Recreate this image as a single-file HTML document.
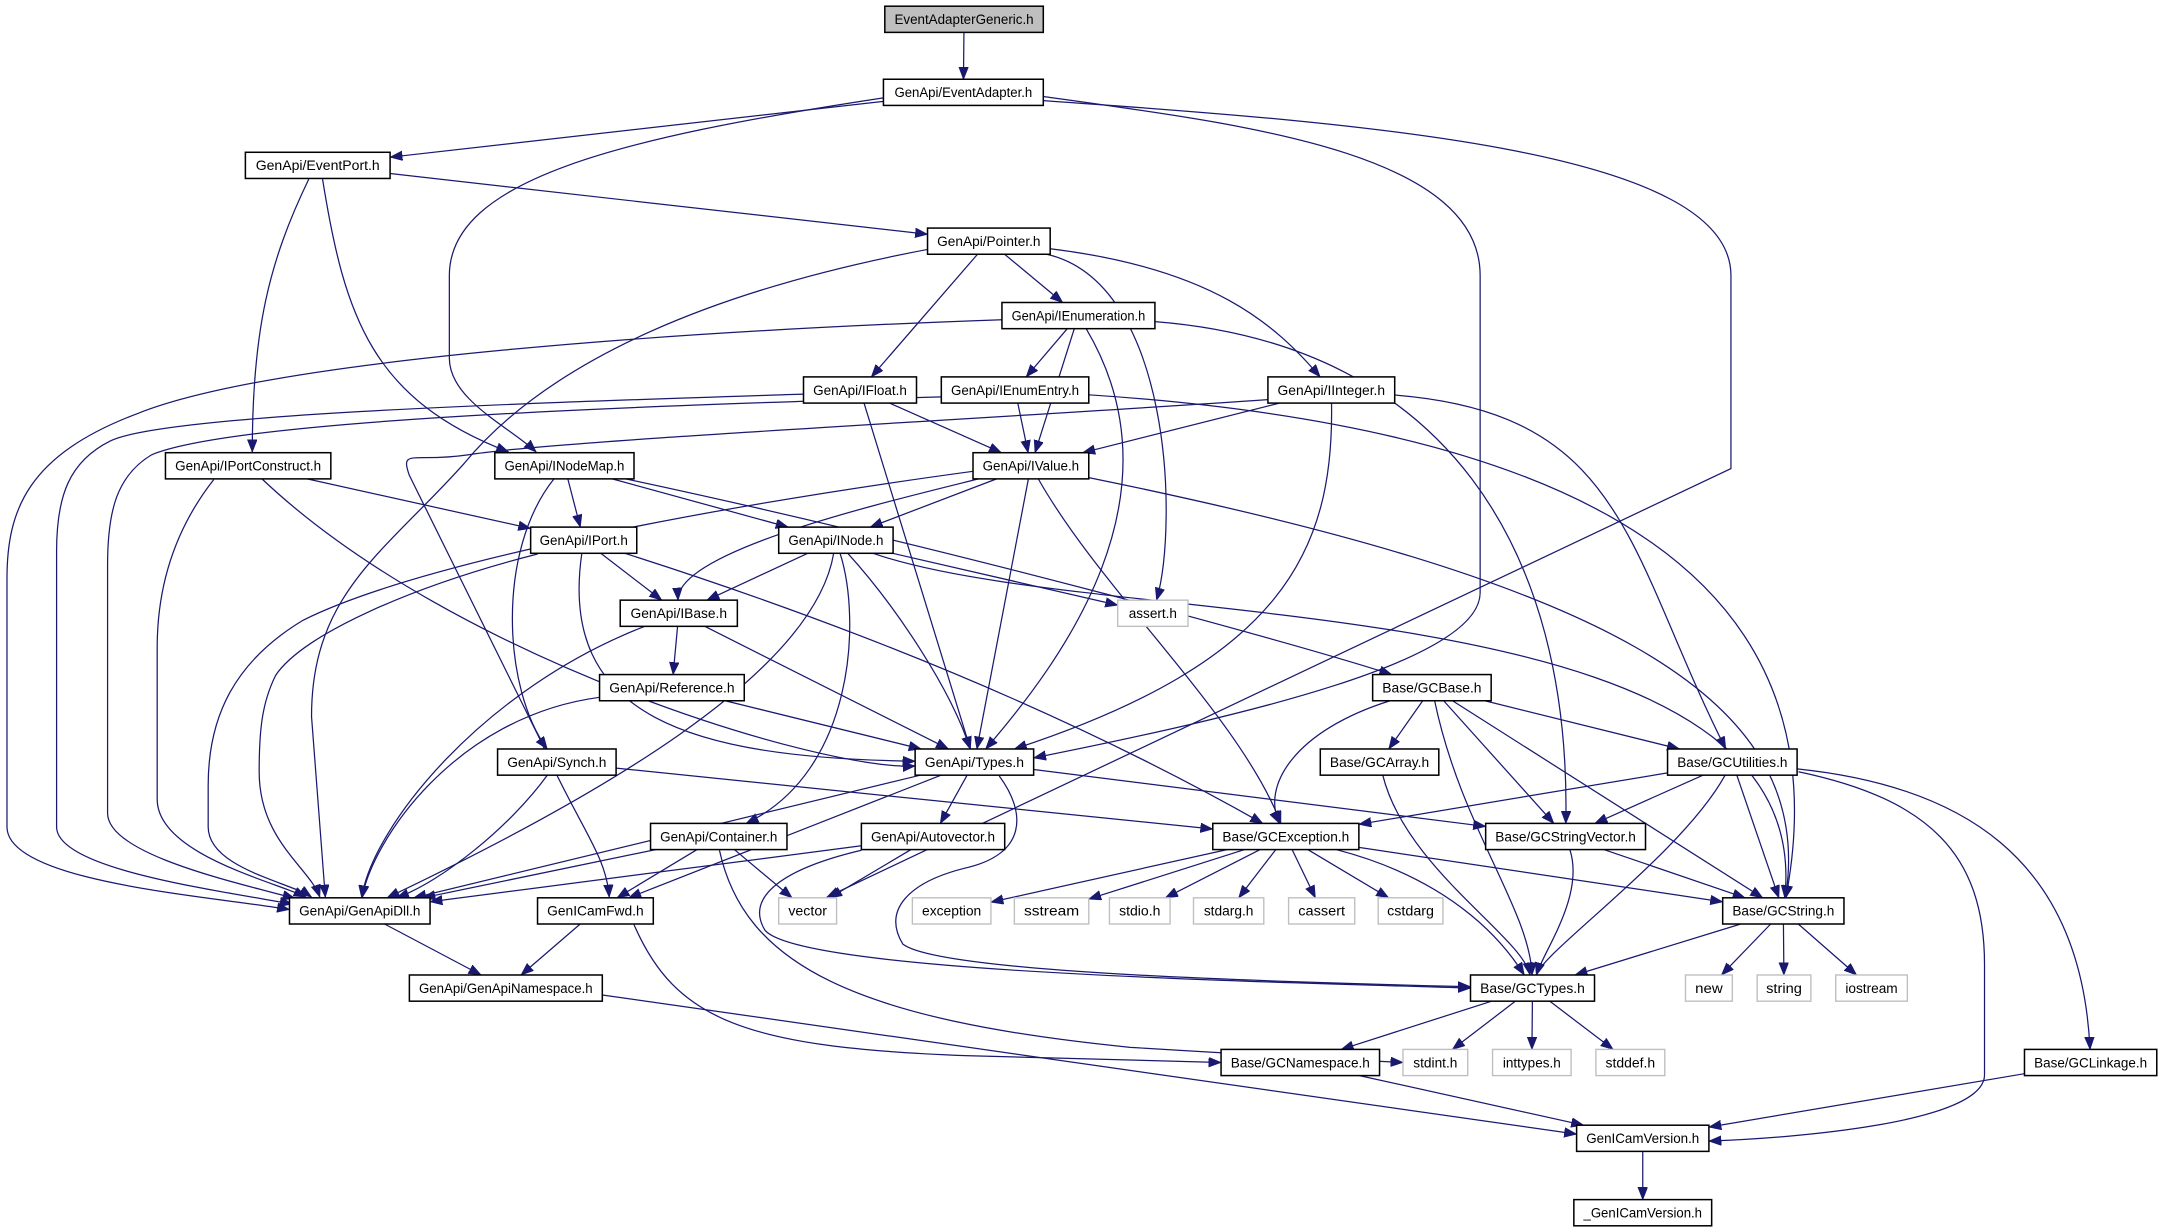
<!DOCTYPE html>
<html><head><meta charset="utf-8"><style>
html,body{margin:0;padding:0;background:#fff;}
svg{display:block;}
text{font-family:"Liberation Sans",sans-serif;font-size:10px;fill:#000;}
.n rect{fill:#fff;stroke:#000;stroke-width:1.1;}
.g rect{fill:#fff;stroke:#bfbfbf;stroke-width:1;}
.e{fill:none;stroke:#191970;stroke-width:0.9;marker-end:url(#ah);}
</style></head><body>
<svg id="s" width="2161" height="1232" viewBox="0 0 1568 894" xmlns="http://www.w3.org/2000/svg">
<defs><marker id="ah" markerUnits="userSpaceOnUse" markerWidth="10" markerHeight="8" refX="9" refY="3.5" orient="auto"><path d="M0,0 L9,3.5 L0,7 z" fill="#191970" stroke="#191970" stroke-width="0.5"/></marker></defs>
<g id="edges">
<path class="e" d="M641,71 C450,100 326,130 326,200 L326,260 C326,290 370,310 389,328"/>
<path class="e" d="M234,130 C250,230 270,290 369,328"/>
<path class="e" d="M224,130 C195,190 183,240 183,328"/>
<path class="e" d="M757,70 C900,90 1074,110 1074,200 L1074,430 C1074,480 900,520 750,550"/>
<path class="e" d="M757,73 C1000,90 1256,110 1256,200 L1256,340 L600,651"/>
<path class="e" d="M727,232 C500,240 200,260 100,300 C20,330 5,370 5,420 L5,600 C5,640 150,650 210,660"/>
<path class="e" d="M583,286 C400,292 120,300 80,320 C50,335 41,360 41,400 L41,600 C41,630 150,645 212,656"/>
<path class="e" d="M683,288 C450,295 170,305 110,330 C85,345 78,370 78,410 L78,590 C78,620 170,640 214,652"/>
<path class="e" d="M155,348 C130,380 114,420 114,470 L114,580 C114,620 200,640 222,651"/>
<path class="e" d="M706,342 C500,370 300,410 220,450 C170,480 151,520 151,570 L151,600 C151,630 210,640 226,651"/>
<path class="e" d="M390,402 C300,425 220,460 200,490 C190,510 188,530 188,560 C188,610 225,630 232,651"/>
<path class="e" d="M673,181 C520,210 400,260 337,336 C280,400 226,430 226,520 L236,651"/>
<path class="e" d="M920,290 C700,305 400,320 340,330 C300,336 290,325 297,345 L392,537 C420,600 440,620 442,651"/>
<path class="e" d="M1305,560 C1400,580 1440,620 1440,700 L1440,780 C1440,815 1300,826 1240,828"/>
<path class="e" d="M725,563 C745,590 745,620 700,630 C660,640 640,660 655,685 C680,705 900,712 1067,716"/>
<path class="e" d="M522,617 C540,700 620,740 820,760 C950,768 1000,770 1018,771"/>
<path class="e" d="M625,617 C570,630 540,650 555,675 C580,705 900,712 1067,717"/>
<path class="e" d="M460,671 C490,740 540,760 700,766 L886,771"/>
<path class="e" d="M437,722 L1144,823"/>
</g>
<g id="nodes">
<g class="n"><rect x="642" y="4.5" width="115" height="19" style="fill:#bfbfbf"/><text x="699.5" y="17.5" text-anchor="middle" textLength="101" lengthAdjust="spacingAndGlyphs">EventAdapterGeneric.h</text></g>
<g class="n"><rect x="641" y="57.5" width="116" height="19"/><text x="699" y="70.5" text-anchor="middle" textLength="100" lengthAdjust="spacingAndGlyphs">GenApi/EventAdapter.h</text></g>
<g class="n"><rect x="178" y="110.5" width="105" height="19"/><text x="230.5" y="123.5" text-anchor="middle" textLength="90" lengthAdjust="spacingAndGlyphs">GenApi/EventPort.h</text></g>
<g class="n"><rect x="673" y="165.5" width="89" height="19"/><text x="717.5" y="178.5" text-anchor="middle" textLength="75" lengthAdjust="spacingAndGlyphs">GenApi/Pointer.h</text></g>
<g class="n"><rect x="727" y="219.5" width="111" height="19"/><text x="782.5" y="232.5" text-anchor="middle" textLength="97" lengthAdjust="spacingAndGlyphs">GenApi/IEnumeration.h</text></g>
<g class="n"><rect x="583" y="273.5" width="82" height="19"/><text x="624" y="286.5" text-anchor="middle" textLength="68" lengthAdjust="spacingAndGlyphs">GenApi/IFloat.h</text></g>
<g class="n"><rect x="683" y="273.5" width="107" height="19"/><text x="736.5" y="286.5" text-anchor="middle" textLength="93" lengthAdjust="spacingAndGlyphs">GenApi/IEnumEntry.h</text></g>
<g class="n"><rect x="920" y="273.5" width="92" height="19"/><text x="966" y="286.5" text-anchor="middle" textLength="78" lengthAdjust="spacingAndGlyphs">GenApi/IInteger.h</text></g>
<g class="n"><rect x="120" y="328.5" width="120" height="19"/><text x="180" y="341.5" text-anchor="middle" textLength="106" lengthAdjust="spacingAndGlyphs">GenApi/IPortConstruct.h</text></g>
<g class="n"><rect x="359" y="328.5" width="101" height="19"/><text x="409.5" y="341.5" text-anchor="middle" textLength="87" lengthAdjust="spacingAndGlyphs">GenApi/INodeMap.h</text></g>
<g class="n"><rect x="706" y="328.5" width="84" height="19"/><text x="748" y="341.5" text-anchor="middle" textLength="70" lengthAdjust="spacingAndGlyphs">GenApi/IValue.h</text></g>
<g class="n"><rect x="385" y="382.5" width="77" height="19"/><text x="423.5" y="395.5" text-anchor="middle" textLength="64" lengthAdjust="spacingAndGlyphs">GenApi/IPort.h</text></g>
<g class="n"><rect x="565" y="382.5" width="83" height="19"/><text x="606.5" y="395.5" text-anchor="middle" textLength="69" lengthAdjust="spacingAndGlyphs">GenApi/INode.h</text></g>
<g class="n"><rect x="450" y="435.5" width="85" height="19"/><text x="492.5" y="448.5" text-anchor="middle" textLength="70" lengthAdjust="spacingAndGlyphs">GenApi/IBase.h</text></g>
<g class="g"><rect x="811" y="435.5" width="51" height="19"/><text x="836.5" y="448.5" text-anchor="middle" textLength="35" lengthAdjust="spacingAndGlyphs">assert.h</text></g>
<g class="n"><rect x="435" y="489.5" width="105" height="19"/><text x="487.5" y="502.5" text-anchor="middle" textLength="91" lengthAdjust="spacingAndGlyphs">GenApi/Reference.h</text></g>
<g class="n"><rect x="996" y="489.5" width="86" height="19"/><text x="1039" y="502.5" text-anchor="middle" textLength="72" lengthAdjust="spacingAndGlyphs">Base/GCBase.h</text></g>
<g class="n"><rect x="958" y="543.5" width="86" height="19"/><text x="1001" y="556.5" text-anchor="middle" textLength="72" lengthAdjust="spacingAndGlyphs">Base/GCArray.h</text></g>
<g class="n"><rect x="1210" y="543.5" width="94" height="19"/><text x="1257" y="556.5" text-anchor="middle" textLength="80" lengthAdjust="spacingAndGlyphs">Base/GCUtilities.h</text></g>
<g class="n"><rect x="361" y="543.5" width="86" height="19"/><text x="404" y="556.5" text-anchor="middle" textLength="72" lengthAdjust="spacingAndGlyphs">GenApi/Synch.h</text></g>
<g class="n"><rect x="664" y="543.5" width="86" height="19"/><text x="707" y="556.5" text-anchor="middle" textLength="72" lengthAdjust="spacingAndGlyphs">GenApi/Types.h</text></g>
<g class="n"><rect x="472" y="597.5" width="99" height="19"/><text x="521.5" y="610.5" text-anchor="middle" textLength="85" lengthAdjust="spacingAndGlyphs">GenApi/Container.h</text></g>
<g class="n"><rect x="625" y="597.5" width="104" height="19"/><text x="677" y="610.5" text-anchor="middle" textLength="90" lengthAdjust="spacingAndGlyphs">GenApi/Autovector.h</text></g>
<g class="n"><rect x="880" y="597.5" width="106" height="19"/><text x="933" y="610.5" text-anchor="middle" textLength="92" lengthAdjust="spacingAndGlyphs">Base/GCException.h</text></g>
<g class="n"><rect x="1078" y="597.5" width="116" height="19"/><text x="1136" y="610.5" text-anchor="middle" textLength="102" lengthAdjust="spacingAndGlyphs">Base/GCStringVector.h</text></g>
<g class="n"><rect x="210" y="651.5" width="102" height="19"/><text x="261" y="664.5" text-anchor="middle" textLength="88" lengthAdjust="spacingAndGlyphs">GenApi/GenApiDll.h</text></g>
<g class="g"><rect x="565" y="651.5" width="42" height="19"/><text x="586" y="664.5" text-anchor="middle" textLength="28" lengthAdjust="spacingAndGlyphs">vector</text></g>
<g class="n"><rect x="390" y="651.5" width="84" height="19"/><text x="432" y="664.5" text-anchor="middle" textLength="70" lengthAdjust="spacingAndGlyphs">GenICamFwd.h</text></g>
<g class="g"><rect x="662" y="651.5" width="57" height="19"/><text x="690.5" y="664.5" text-anchor="middle" textLength="43" lengthAdjust="spacingAndGlyphs">exception</text></g>
<g class="g"><rect x="736" y="651.5" width="54" height="19"/><text x="763" y="664.5" text-anchor="middle" textLength="40" lengthAdjust="spacingAndGlyphs">sstream</text></g>
<g class="g"><rect x="805" y="651.5" width="44" height="19"/><text x="827" y="664.5" text-anchor="middle" textLength="30" lengthAdjust="spacingAndGlyphs">stdio.h</text></g>
<g class="g"><rect x="866" y="651.5" width="51" height="19"/><text x="891.5" y="664.5" text-anchor="middle" textLength="36" lengthAdjust="spacingAndGlyphs">stdarg.h</text></g>
<g class="g"><rect x="935" y="651.5" width="48" height="19"/><text x="959" y="664.5" text-anchor="middle" textLength="34" lengthAdjust="spacingAndGlyphs">cassert</text></g>
<g class="g"><rect x="1000" y="651.5" width="47" height="19"/><text x="1023.5" y="664.5" text-anchor="middle" textLength="34" lengthAdjust="spacingAndGlyphs">cstdarg</text></g>
<g class="n"><rect x="1250" y="651.5" width="88" height="19"/><text x="1294" y="664.5" text-anchor="middle" textLength="74" lengthAdjust="spacingAndGlyphs">Base/GCString.h</text></g>
<g class="g"><rect x="1223" y="707.5" width="34" height="19"/><text x="1240" y="720.5" text-anchor="middle" textLength="20" lengthAdjust="spacingAndGlyphs">new</text></g>
<g class="g"><rect x="1275" y="707.5" width="39" height="19"/><text x="1294.5" y="720.5" text-anchor="middle" textLength="26" lengthAdjust="spacingAndGlyphs">string</text></g>
<g class="g"><rect x="1332" y="707.5" width="52" height="19"/><text x="1358" y="720.5" text-anchor="middle" textLength="38" lengthAdjust="spacingAndGlyphs">iostream</text></g>
<g class="n"><rect x="1067" y="707.5" width="90" height="19"/><text x="1112" y="720.5" text-anchor="middle" textLength="76" lengthAdjust="spacingAndGlyphs">Base/GCTypes.h</text></g>
<g class="n"><rect x="297" y="707.5" width="140" height="19"/><text x="367" y="720.5" text-anchor="middle" textLength="126" lengthAdjust="spacingAndGlyphs">GenApi/GenApiNamespace.h</text></g>
<g class="n"><rect x="886" y="761.5" width="115" height="19"/><text x="943.5" y="774.5" text-anchor="middle" textLength="101" lengthAdjust="spacingAndGlyphs">Base/GCNamespace.h</text></g>
<g class="g"><rect x="1018" y="761.5" width="47" height="19"/><text x="1041.5" y="774.5" text-anchor="middle" textLength="32" lengthAdjust="spacingAndGlyphs">stdint.h</text></g>
<g class="g"><rect x="1083" y="761.5" width="57" height="19"/><text x="1111.5" y="774.5" text-anchor="middle" textLength="42" lengthAdjust="spacingAndGlyphs">inttypes.h</text></g>
<g class="g"><rect x="1158" y="761.5" width="50" height="19"/><text x="1183" y="774.5" text-anchor="middle" textLength="36" lengthAdjust="spacingAndGlyphs">stddef.h</text></g>
<g class="n"><rect x="1469" y="761.5" width="96" height="19"/><text x="1517" y="774.5" text-anchor="middle" textLength="82" lengthAdjust="spacingAndGlyphs">Base/GCLinkage.h</text></g>
<g class="n"><rect x="1144" y="816.5" width="96" height="19"/><text x="1192" y="829.5" text-anchor="middle" textLength="82" lengthAdjust="spacingAndGlyphs">GenICamVersion.h</text></g>
<g class="n"><rect x="1142" y="870.5" width="100" height="19"/><text x="1192" y="883.5" text-anchor="middle" textLength="86" lengthAdjust="spacingAndGlyphs">_GenICamVersion.h</text></g>
</g>
</svg>
<script>
var N={EAG:[642,757,14],EA:[641,757,67],EP:[178,283,120],Ptr:[673,762,175],IEnum:[727,838,229],IFloat:[583,665,283],IEE:[683,790,283],IInt:[920,1012,283],IPC:[120,240,338],INM:[359,460,338],IVal:[706,790,338],IPort:[385,462,392],INode:[565,648,392],IBase:[450,535,445],assert:[811,862,445],Ref:[435,540,499],GCBase:[996,1082,499],GCArray:[958,1044,553],GCUtil:[1210,1304,553],Synch:[361,447,553],Types:[664,750,553],Cont:[472,571,607],Auto:[625,729,607],GCExc:[880,986,607],GCSV:[1078,1194,607],Dll:[210,312,661],vector:[565,607,661],Fwd:[390,474,661],exc:[662,719,661],sst:[736,790,661],stdio:[805,849,661],stdarg:[866,917,661],cassert:[935,983,661],cstdarg:[1000,1047,661],GCS:[1250,1338,661],nw:[1223,1257,717],str:[1275,1314,717],ios:[1332,1384,717],GCT:[1067,1157,717],GANS:[297,437,717],GCNS:[886,1001,771],stdint:[1018,1065,771],intt:[1083,1140,771],stddef:[1158,1208,771],GCL:[1469,1565,771],GV:[1144,1240,826],_GV:[1142,1242,880]};
var E=[["EAG","EA"],["EA","EP"],["EP","Ptr"],["Ptr","IFloat"],["Ptr","IEnum"],["Ptr","assert",850,205,855,380],["Ptr","IInt",880,195,925,235],
["IEnum","IEE"],["IEnum","IVal"],["IEnum","Types",860,360,770,480],["IEnum","GCSV",1050,250,1140,400],
["IFloat","IVal"],["IFloat","Types"],["IEE","IVal"],["IEE","GCS",1150,310,1340,420],
["IInt","IVal"],["IInt","Types",968,400,930,480],["IInt","GCUtil",1180,300,1180,400],
["IPC","IPort"],["IPC","Types",330,480,600,560],["INM","IPort"],["INM","INode"],["INM","Synch",360,400,365,500],["INM","GCBase",700,400,950,470],
["IVal","IBase",640,365,490,400],["IVal","INode"],["IVal","Types"],["IVal","GCExc",800,430,900,520],["IVal","GCS",1150,420,1320,500],
["IPort","IBase"],["IPort","Types",405,520,500,550],["IPort","GCExc",700,480,850,560],
["INode","IBase"],["INode","assert"],["INode","Dll",590,490,430,580],["INode","Types",650,440,690,500],["INode","Cont",625,450,620,560],["INode","GCS",800,460,1320,420],
["IBase","Ref"],["IBase","Dll",350,500,270,600],["IBase","Types"],["Ref","Dll",330,520,270,610],["Ref","Types"],
["GCBase","GCArray"],["GCBase","GCExc",940,530,915,570],["GCBase","GCT",1060,600,1110,660],["GCBase","GCSV"],["GCBase","GCS"],["GCBase","GCUtil"],
["GCArray","GCT",1020,630,1105,680],["GCUtil","GCExc"],["GCUtil","GCSV"],["GCUtil","GCS"],["GCUtil","GCT",1220,620,1120,690],["GCUtil","GCL",1420,570,1510,620],
["Synch","Dll",370,600,320,640],["Synch","GCExc"],["Types","Dll"],["Types","Fwd"],["Types","Auto"],["Types","GCSV"],
["Cont","Dll"],["Cont","Fwd"],["Cont","vector"],["Auto","Dll"],["Auto","vector"],
["GCExc","exc"],["GCExc","sst"],["GCExc","stdio"],["GCExc","stdarg"],["GCExc","cassert"],["GCExc","cstdarg"],["GCExc","GCS"],["GCExc","GCT",1060,640,1095,690],
["GCSV","GCS"],["GCSV","GCT",1150,650,1120,690],["Dll","GANS"],["Fwd","GANS"],
["GCS","GCT"],["GCS","nw"],["GCS","str"],["GCS","ios"],["GCT","GCNS"],["GCT","stdint"],["GCT","intt"],["GCT","stddef"],
["GCNS","GV"],["GCL","GV"],["GV","_GV"]];
function clip(b,px,py){var cx=(b[0]+b[1])/2,cy=b[2],hw=(b[1]-b[0])/2,hh=9.5,dx=px-cx,dy=py-cy;
var t=Math.min(dx?hw/Math.abs(dx):1e9,dy?hh/Math.abs(dy):1e9);return [cx+dx*t,cy+dy*t];}
var g=document.getElementById("edges"),ns="http://www.w3.org/2000/svg";
E.forEach(function(e){var a=N[e[0]],b=N[e[1]],ac=[(a[0]+a[1])/2,a[2]],bc=[(b[0]+b[1])/2,b[2]],d;
if(e.length>2){var s=clip(a,e[2],e[3]),t=clip(b,e[4],e[5]);d="M"+s+" C"+e[2]+","+e[3]+" "+e[4]+","+e[5]+" "+t;}
else{var s=clip(a,bc[0],bc[1]),t=clip(b,ac[0],ac[1]);d="M"+s+" L"+t;}
var p=document.createElementNS(ns,"path");p.setAttribute("class","e");p.setAttribute("d",d);g.appendChild(p);});
</script>
</body></html>
